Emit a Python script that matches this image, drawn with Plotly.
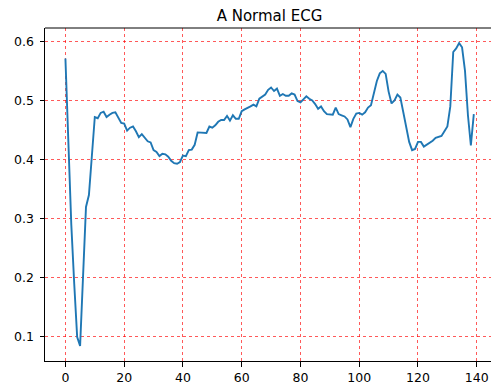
import plotly.graph_objects as go

title_text = "A Normal ECG"

ecg_values = [
    0.571, 0.430, 0.290, 0.190, 0.100, 0.085, 0.200, 0.320, 0.340, 0.410,
    0.472, 0.470, 0.479, 0.481, 0.472, 0.476, 0.479, 0.480, 0.470, 0.462,
    0.461, 0.449, 0.454, 0.456, 0.448, 0.438, 0.443, 0.437, 0.431, 0.429,
    0.416, 0.413, 0.406, 0.410, 0.409, 0.405, 0.398, 0.394, 0.393, 0.396,
    0.407, 0.406, 0.416, 0.417, 0.425, 0.446, 0.446, 0.445, 0.445, 0.456,
    0.454, 0.458, 0.464, 0.467, 0.467, 0.474, 0.466, 0.475, 0.469, 0.469,
    0.482, 0.485, 0.487, 0.490, 0.493, 0.490, 0.503, 0.507, 0.510, 0.518,
    0.522, 0.516, 0.520, 0.508, 0.511, 0.508, 0.508, 0.512, 0.510, 0.499,
    0.497, 0.502, 0.507, 0.503, 0.500, 0.494, 0.486, 0.490, 0.482, 0.477,
    0.476, 0.476, 0.488, 0.477, 0.475, 0.473, 0.468, 0.455, 0.469, 0.478,
    0.479, 0.476, 0.480, 0.488, 0.492, 0.512, 0.533, 0.546, 0.550, 0.545,
    0.515, 0.495, 0.500, 0.510, 0.505, 0.480, 0.455, 0.430, 0.416, 0.418,
    0.430, 0.430, 0.422, 0.425, 0.429, 0.432, 0.437, 0.439, 0.440, 0.448,
    0.456, 0.490, 0.582, 0.588, 0.597, 0.590, 0.550, 0.475, 0.424, 0.477,
]
x_index = list(range(len(ecg_values)))

x_ticks = [0, 20, 40, 60, 80, 100, 120, 140]
y_ticks = [0.1, 0.2, 0.3, 0.4, 0.5, 0.6]
y_tick_labels = ["0.1", "0.2", "0.3", "0.4", "0.5", "0.6"]

ymin, ymax = min(ecg_values), max(ecg_values)
span = ymax - ymin
y_range = [ymin - 0.05 * span, ymax + 0.05 * span]
x_range = [-0.05 * (len(ecg_values) - 1), 144.85]

fig = go.Figure()
fig.add_trace(go.Scatter(
    x=x_index, y=ecg_values, mode="lines",
    line=dict(color="#1f77b4", width=1.9),
    showlegend=False, hoverinfo="skip",
))

font = dict(family="DejaVu Sans", size=12.5, color="black")
axis_common = dict(
    showline=True, linecolor="black", linewidth=1,
    ticks="outside", ticklen=4.5, tickwidth=1, tickcolor="black",
    showgrid=True, gridcolor="rgba(255,0,0,0.65)", gridwidth=1, griddash="dot",
    zeroline=False, tickfont=font, automargin=False,
)
fig.update_xaxes(range=x_range, tickvals=x_ticks, ticklabelstandoff=0, **axis_common)
fig.update_yaxes(range=y_range, tickvals=y_ticks, ticktext=y_tick_labels,
                 ticklabelstandoff=3, **axis_common)

# top spine (no right spine visible in the reference)
fig.add_shape(type="line", xref="paper", yref="paper", x0=0, x1=1, y0=1, y1=1,
              line=dict(color="black", width=1))

fig.update_layout(
    width=491, height=383,
    margin=dict(l=45, r=0, t=28, b=22),
    paper_bgcolor="white", plot_bgcolor="white",
    hovermode=False,
    title=dict(text=title_text, x=(269.5) / 491, xanchor="center",
               y=1 - 21 / 383, yanchor="bottom",
               font=dict(family="DejaVu Sans", size=15, color="black")),
)

fig.write_html(
    "out.html",
    config={"displayModeBar": False},
    post_script="document.body.style.margin='0px';document.body.style.overflow='hidden';",
)
